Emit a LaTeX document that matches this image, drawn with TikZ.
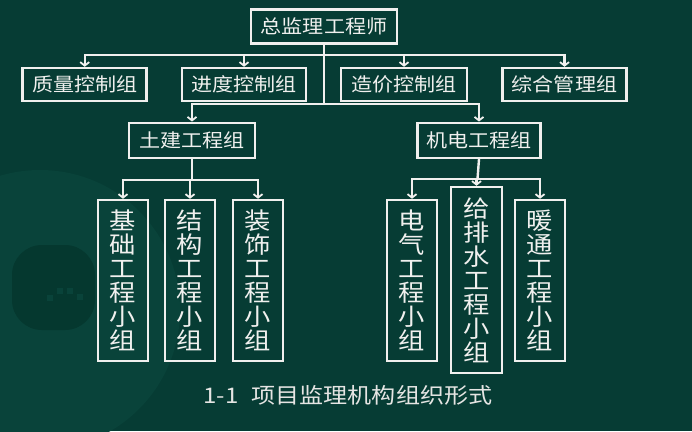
\documentclass[tikz,border=0pt]{standalone}
\usepackage{fontspec}
\newfontfamily\cjkfont[FakeStretch=1.12]{Noto Sans CJK SC}
\usetikzlibrary{arrows.meta}
\definecolor{board}{HTML}{063C34}
\definecolor{boardlight}{HTML}{09433A}
\definecolor{boarddark}{HTML}{05382F}
\definecolor{chalk}{HTML}{F0F0EE}
\begin{document}
\begin{tikzpicture}[x=1pt,y=-1pt,
  boxstyle/.style={draw=chalk,line width=2.5pt,inner sep=0pt,text=chalk,font=\cjkfont\fontsize{18.8}{20}\selectfont,minimum height=33pt,minimum width=124pt},
  tallbox/.style={boxstyle,minimum width=50pt,minimum height=161pt,align=center,font=\cjkfont\fontsize{23.5}{24}\selectfont},
  link/.style={draw=chalk,line width=2.4pt,-{Straight Barb[length=3.5pt,width=9pt,line width=1.8pt]}},
  trunk/.style={draw=chalk,line width=2.4pt}]
\useasboundingbox (0,0) rectangle (692,431);
\begin{scope}
\clip (0,0) rectangle (692,431);
\fill[board] (0,0) rectangle (692,431);
\fill[boardlight] (40,310) circle (140pt);
\fill[boarddark,rounded corners=30pt] (12,245) rectangle (95,330);
\foreach \dx/\dy in {47/295,57/288,67/288,77/294}
  \fill[boardlight] (\dx,\dy) rectangle ++(6,6);
\end{scope}
\node[boxstyle,minimum width=146pt,minimum height=34pt] (zj) at (324,26.5) {总监理工程师};
\node[boxstyle] (zl) at (84.7,84.5) {质量控制组};
\node[boxstyle] (jd) at (244,84.5) {进度控制组};
\node[boxstyle,minimum width=126pt] (zc) at (404,84.5) {造价控制组};
\node[boxstyle] (zh) at (564.5,84.5) {综合管理组};
\node[boxstyle,minimum width=126pt,minimum height=35pt] (tj) at (192,140.3) {土建工程组};
\node[boxstyle,minimum width=123pt,minimum height=35pt] (jmd) at (479,140.3) {机电工程组};
\node[tallbox] (jc) at (123,280.5) {基\\础\\工\\程\\小\\组};
\node[tallbox] (jg) at (190,280.5) {结\\构\\工\\程\\小\\组};
\node[tallbox] (zs) at (258,280.5) {装\\饰\\工\\程\\小\\组};
\node[tallbox] (dq) at (412,280.5) {电\\气\\工\\程\\小\\组};
\node[tallbox,minimum height=186pt,minimum width=51pt] (gps) at (476.5,280) {给\\排\\水\\工\\程\\小\\组};
\node[tallbox] (nt) at (540,280.5) {暖\\通\\工\\程\\小\\组};
\node[text=chalk!90!gray,font=\cjkfont\fontsize{21.5}{24}\selectfont] (title) at (348,395) {1-1\hspace{0.6em}项目监理机构组织形式};
\coordinate (bara) at (324,55);
\coordinate (barb) at (324,104);
\coordinate (barc) at (192,180);
\coordinate (bard) at (477.5,179);
\draw[trunk] (zj.south) -- (barb);
\foreach \g in {zl,jd,zc,zh}
  \draw[link] (bara) -| (\g.north);
\foreach \g in {tj,jmd}
  \draw[link] (barb) -| (\g.north);
\draw[trunk] (tj.south) -- (barc);
\foreach \g in {jc,jg,zs}
  \draw[link] (barc) -| (\g.north);
\draw[trunk] (jmd.south) -- (bard);
\foreach \g in {dq,gps,nt}
  \draw[link] (bard) -| (\g.north);
\end{tikzpicture}
\end{document}
